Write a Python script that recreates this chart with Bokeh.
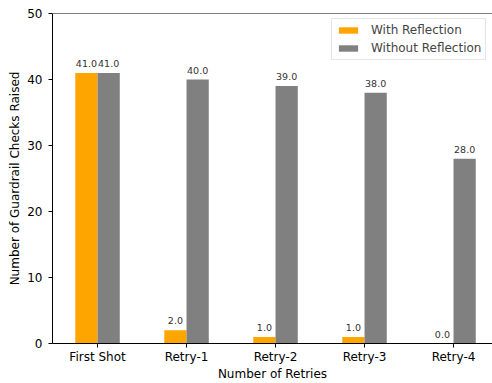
from bokeh.plotting import figure
from bokeh.models import ColumnDataSource, FixedTicker, Span, Legend, LegendItem, Range1d
from bokeh.transform import dodge
from bokeh.core.properties import value
from bokeh.embed import file_html
from bokeh.resources import INLINE

categories = ["First Shot", "Retry-1", "Retry-2", "Retry-3", "Retry-4"]
with_reflection = [41, 2, 1, 1, 0]
without_reflection = [41, 40, 39, 38, 28]
y_ticks = [0, 10, 20, 30, 40, 50]

idx = list(range(len(categories)))
src = ColumnDataSource(dict(
    x=idx,
    w=with_reflection,
    wo=without_reflection,
    wl=[f"{v:.1f}" for v in with_reflection],
    wol=[f"{v:.1f}" for v in without_reflection],
))

FONT = "DejaVu Sans"
p = figure(width=492, height=383, output_backend="svg", toolbar_location=None,
           x_range=Range1d(-0.506, 4.438), y_range=Range1d(0, 50),
           min_border_left=52, min_border_right=0, min_border_top=13, min_border_bottom=40)
p.outline_line_color = None
p.xgrid.grid_line_color = None
p.ygrid.grid_line_color = None

r1 = p.vbar(x=dodge("x", -0.125), top="w", width=0.25, source=src, color="#FFA500", line_color=None)
r2 = p.vbar(x=dodge("x", 0.125), top="wo", width=0.25, source=src, color="#808080", line_color=None)

for col, lab, off in (("w", "wl", -0.125), ("wo", "wol", 0.125)):
    p.text(x=dodge("x", off), y=col, text=lab, source=src, text_align="center", text_baseline="bottom",
           y_offset=-6, text_font=value(FONT), text_font_size="9.5px", text_color="#333333")

p.add_layout(Span(location=50, dimension="width", line_color="black", line_width=1))

for ax in (p.xaxis[0], p.yaxis[0]):
    ax.axis_line_color = "black"
    ax.major_tick_line_color = "black"
    ax.major_tick_out = 4
    ax.major_tick_in = 0
    ax.minor_tick_line_color = None
    ax.major_label_text_font = FONT
    ax.major_label_text_font_size = "12px"
    ax.major_label_text_color = "black"
    ax.axis_label_text_font = FONT
    ax.axis_label_text_font_size = "12px"
    ax.axis_label_text_font_style = "normal"
    ax.axis_label_text_color = "black"

p.xaxis.ticker = FixedTicker(ticks=idx)
p.xaxis.major_label_overrides = {i: c for i, c in zip(idx, categories)}
p.xaxis.axis_label = "Number of Retries"
p.xaxis.axis_label_standoff = 0
p.xaxis.major_label_standoff = 2
p.yaxis.ticker = FixedTicker(ticks=y_ticks)
p.yaxis.axis_label = "Number of Guardrail Checks Raised"
p.yaxis.axis_label_standoff = 2
p.yaxis.major_label_standoff = 6

legend = Legend(items=[LegendItem(label="With Reflection", renderers=[r1]),
                       LegendItem(label="Without Reflection", renderers=[r2])],
                location=(279, 283), padding=4, spacing=4,
                glyph_width=24, glyph_height=8, label_height=14, label_standoff=11,
                label_text_font=FONT, label_text_font_size="12px",
                border_line_color="#cccccc", border_line_width=1, background_fill_alpha=0.8)
p.add_layout(legend)

open("out.html", "w").write(file_html(p, INLINE))
